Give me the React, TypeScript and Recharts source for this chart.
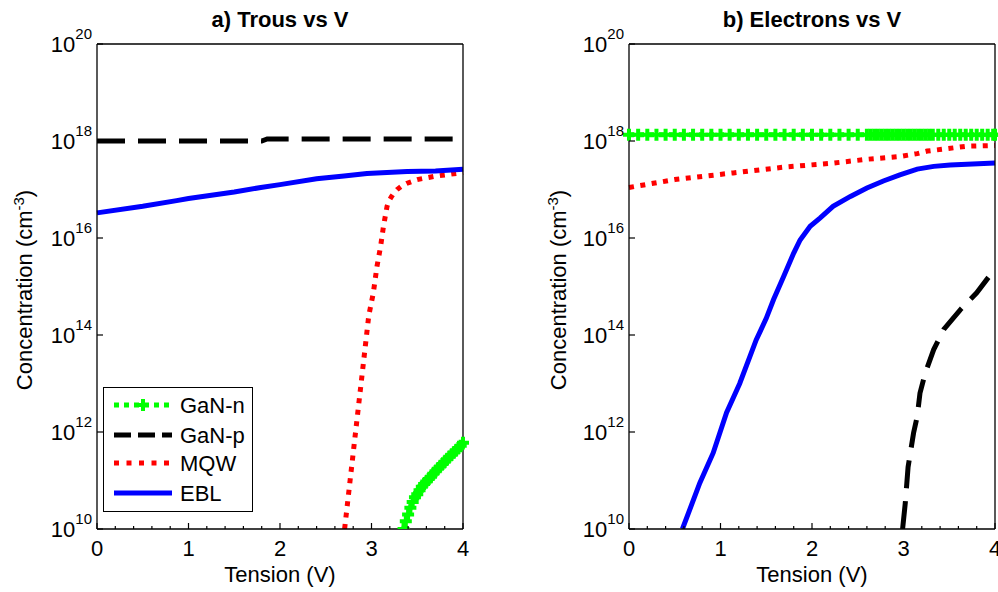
import React from 'react';
import { LineChart, Line, XAxis, YAxis, Legend } from 'recharts';

const FONT = '"Liberation Sans", Arial, Helvetica, sans-serif';

// x ticks (V) and y ticks (cm^-3)
const xTicks = [0, 0.2, 0.4, 0.6, 0.8, 1, 1.2, 1.4, 1.6, 1.8, 2, 2.2, 2.4, 2.6, 2.8, 3, 3.2, 3.4, 3.6, 3.8, 4];
const yTicks = [1e10, 1e12, 1e14, 1e16, 1e18, 1e20];
const seriesNames = ['GaN-n', 'GaN-p', 'MQW', 'EBL'];

// a) Trous vs V
const holesGaNnV = [
  3.35, 3.375, 3.4, 3.425, 3.45, 3.475, 3.5, 3.525, 3.55, 3.575, 3.6, 3.625, 3.65, 3.675,
  3.7, 3.725, 3.75, 3.775, 3.8, 3.825, 3.85, 3.875, 3.9, 3.925, 3.95, 3.975, 4.0,
];
const holesGaNn = [
  1.0e10, 1.45e10, 2.0e10, 2.75e10, 3.6e10, 4.5e10, 5.2e10, 6.3e10, 7.4e10, 8.5e10, 9.5e10, 1.07e11, 1.2e11, 1.38e11,
  1.55e11, 1.74e11, 1.95e11, 2.2e11, 2.45e11, 2.75e11, 3.1e11, 3.4e11, 3.8e11, 4.2e11, 4.7e11, 5.2e11, 6.0e11,
];
const holesGaNpV = [0, 1.8, 1.86, 4.0];
const holesGaNp = [1.0e18, 1.0e18, 1.1e18, 1.1e18];
const holesMqwV = [2.706, 2.8, 2.9, 2.97, 3.02, 3.06, 3.1, 3.13, 3.17, 3.19, 3.22, 3.25, 3.28, 3.33, 3.39, 3.5, 3.68, 3.97, 4.0];
const holesMqw = [1e10, 3.7e11, 1.7e13, 2.5e14, 7.4e14, 2.6e15, 6.8e15, 1.7e16, 4.5e16, 5.8e16, 7.2e16, 8.7e16, 1.0e17, 1.18e17, 1.35e17, 1.6e17, 1.86e17, 2.2e17, 2.25e17];
const holesEblV = [0, 0.5, 0.87, 1.0, 1.5, 1.79, 2.0, 2.4, 2.7, 2.95, 3.39, 3.7, 4.0];
const holesEbl = [3.3e16, 4.5e16, 5.9e16, 6.5e16, 8.9e16, 1.1e17, 1.26e17, 1.66e17, 1.9e17, 2.14e17, 2.34e17, 2.4e17, 2.63e17];

// b) Electrons vs V
const elecGaNnV = [
  0, 0.1, 0.2, 0.3, 0.4, 0.5, 0.6, 0.7, 0.8, 0.9, 1.0, 1.1, 1.2, 1.3, 1.4, 1.5, 1.6, 1.7, 1.8, 1.9, 2.0,
  2.1, 2.2, 2.3, 2.4, 2.5, 2.6, 2.64, 2.68, 2.72, 2.76, 2.8, 2.84, 2.88, 2.92, 2.96, 3.0, 3.04, 3.08,
  3.12, 3.16, 3.2, 3.24, 3.28, 3.32, 3.38, 3.44, 3.5, 3.56, 3.62, 3.68, 3.74, 3.8, 3.86, 3.92, 3.98, 4.0,
];
const elecGaNn = [
  1.35e18, 1.35e18, 1.35e18, 1.35e18, 1.35e18, 1.35e18, 1.35e18, 1.35e18, 1.35e18, 1.35e18, 1.35e18,
  1.35e18, 1.35e18, 1.35e18, 1.35e18, 1.35e18, 1.35e18, 1.35e18, 1.35e18, 1.35e18, 1.35e18, 1.35e18,
  1.35e18, 1.35e18, 1.35e18, 1.35e18, 1.35e18, 1.35e18, 1.35e18, 1.35e18, 1.35e18, 1.35e18, 1.35e18,
  1.35e18, 1.35e18, 1.35e18, 1.35e18, 1.35e18, 1.35e18, 1.35e18, 1.35e18, 1.35e18, 1.35e18, 1.35e18,
  1.35e18, 1.35e18, 1.35e18, 1.35e18, 1.35e18, 1.35e18, 1.35e18, 1.35e18, 1.35e18, 1.35e18, 1.35e18,
  1.35e18, 1.35e18,
];
const elecGaNpV = [2.99, 3.02, 3.05, 3.11, 3.15, 3.18, 3.24, 3.33, 3.44, 3.62, 3.8, 3.99, 4.0];
const elecGaNp = [1e10, 3.5e10, 1.9e11, 9.5e11, 2.1e12, 6.3e12, 1.7e13, 5e13, 1.3e14, 3.3e14, 7.4e14, 2.2e15, 2.4e15];
const elecMqwV = [0, 0.5, 1.14, 1.7, 2.23, 2.6, 2.96, 3.15, 3.26, 3.69, 4.0];
const elecMqw = [1.1e17, 1.6e17, 2.2e17, 2.9e17, 3.5e17, 4.2e17, 4.8e17, 5.5e17, 6.2e17, 7.8e17, 8.1e17];
const elecEblV = [0.584, 0.774, 0.92, 1.066, 1.21, 1.39, 1.5, 1.58, 1.69, 1.8, 1.87, 1.98, 2.09, 2.23, 2.42, 2.6, 2.78, 2.96, 3.15, 3.33, 3.51, 4.0];
const elecEbl = [1e10, 8.9e10, 3.7e11, 2.5e12, 1.0e13, 7.9e13, 2.2e14, 5.4e14, 1.6e15, 4.9e15, 9.1e15, 1.74e16, 2.6e16, 4.5e16, 7.2e16, 1.07e17, 1.5e17, 2.0e17, 2.63e17, 3.0e17, 3.2e17, 3.5e17];

const styles = [
  { color: '#00ff00', dash: '5 5', width: 5, plus: true },
  { color: '#000000', dash: '28 13', width: 5, plus: false },
  { color: '#ff0000', dash: '5 6.5', width: 5, plus: false },
  { color: '#0000ff', dash: undefined, width: 5, plus: false },
];

const toRows = (v: number[], n: number[]) => v.map((x, i) => ({ v: x, n: n[i] }));

const holesSeries = [
  toRows(holesGaNnV, holesGaNn),
  toRows(holesGaNpV, holesGaNp),
  toRows(holesMqwV, holesMqw),
  toRows(holesEblV, holesEbl),
];
const elecSeries = [
  toRows(elecGaNnV, elecGaNn),
  toRows(elecGaNpV, elecGaNp),
  toRows(elecMqwV, elecMqw),
  toRows(elecEblV, elecEbl),
];

const W = 499;
const H = 592;
const TOP = 44;
const BOTTOM = 529;
const PW = 366;
const FS = 22;

const plusDot = (props: any) => {
  const { cx, cy, index } = props;
  if (cx == null || cy == null) return <g key={`p${index}`} />;
  return (
    <path
      key={`p${index}`}
      d={`M${cx - 6},${cy}H${cx + 6}M${cx},${cy - 6}V${cy + 6}`}
      stroke="#00ff00"
      strokeWidth={4}
      fill="none"
    />
  );
};

function LegendBox() {
  const rows = [18, 48, 76, 106];
  return (
    <svg width={150} height={125} style={{ display: 'block' }}>
      <rect x={0.5} y={0.5} width={149} height={124} fill="#fff" stroke="#000" strokeWidth={1} />
      {seriesNames.map((name, i) => {
        const s = styles[i];
        const y = rows[i];
        const dash = i === 1 ? '17 7' : i === 2 ? '5 7.5' : s.dash;
        return (
          <g key={name}>
            <line x1={11} x2={69} y1={y} y2={y} stroke={s.color} strokeWidth={s.width} strokeDasharray={dash} />
            {s.plus && (
              <path d={`M${40 - 5.5},${y}H${40 + 5.5}M40,${y - 6}V${y + 6}`} stroke={s.color} strokeWidth={4} />
            )}
            <text x={77} y={y + 8} fontSize={FS} fontFamily={FONT} fill="#000">
              {name}
            </text>
          </g>
        );
      })}
    </svg>
  );
}

function Panel({ title, data, plotLeft, yLabelX, legend }: any) {
  const plotRight = plotLeft + PW;
  const cx = plotLeft + PW / 2;

  const bottomTick = (p: any) => {
    const x = p.x;
    const v = p.payload.value;
    const major = Math.abs(v - Math.round(v)) < 1e-6;
    return (
      <g>
        <line x1={x} x2={x} y1={BOTTOM} y2={BOTTOM - (major ? 6 : 3)} stroke="#000" strokeWidth={1.2} />
        {major && (
          <text x={x} y={556} textAnchor="middle" fontSize={FS} fontFamily={FONT} fill="#000">
            {Math.round(v)}
          </text>
        )}
      </g>
    );
  };
  const topTick = (p: any) => {
    const x = p.x;
    const v = p.payload.value;
    const major = Math.abs(v - Math.round(v)) < 1e-6;
    return <line x1={x} x2={x} y1={TOP} y2={TOP + (major ? 6 : 3)} stroke="#000" strokeWidth={1.2} />;
  };
  const leftTick = (p: any) => {
    const y = p.y;
    const exp = Math.round(Math.log10(p.payload.value));
    return (
      <g>
        <line x1={plotLeft} x2={plotLeft + 6} y1={y} y2={y} stroke="#000" strokeWidth={1.2} />
        <text x={plotLeft - 5} y={y + 8} textAnchor="end" fontSize={FS} fontFamily={FONT} fill="#000">
          10
          <tspan dy={-13} fontSize={15}>
            {exp}
          </tspan>
        </text>
      </g>
    );
  };
  const rightTick = (p: any) => {
    const y = p.y;
    return <line x1={plotRight - 6} x2={plotRight} y1={y} y2={y} stroke="#000" strokeWidth={1.2} />;
  };

  const axisLine = { stroke: '#000', strokeWidth: 1.3 };

  return (
    <LineChart
      width={W}
      height={H}
      margin={{ top: TOP - 1, right: W - plotRight - 1, bottom: 0, left: plotLeft - 60 }}
    >
      <XAxis
        xAxisId="b"
        dataKey="v"
        type="number"
        domain={[0, 4]}
        ticks={xTicks}
        interval={0}
        height={H - BOTTOM}
        tick={bottomTick}
        tickLine={false}
        axisLine={axisLine}
        label={{
          content: () => (
            <text x={cx} y={582} textAnchor="middle" fontSize={FS} fontFamily={FONT} fill="#000">
              Tension (V)
            </text>
          ),
        }}
      />
      <XAxis
        xAxisId="t"
        orientation="top"
        type="number"
        domain={[0, 4]}
        ticks={xTicks}
        interval={0}
        height={1}
        tick={topTick}
        tickLine={false}
        axisLine={axisLine}
        label={{
          content: () => (
            <text x={cx} y={27} textAnchor="middle" fontSize={22} fontWeight="bold" fontFamily={FONT} fill="#000">
              {title}
            </text>
          ),
        }}
      />
      <YAxis
        yAxisId="l"
        type="number"
        scale="log"
        domain={[1e10, 1e20]}
        ticks={yTicks}
        interval={0}
        width={60}
        tick={leftTick}
        tickLine={false}
        axisLine={axisLine}
        allowDataOverflow
        label={{
          content: () => (
            <text
              x={yLabelX}
              y={290}
              transform={`rotate(-90 ${yLabelX} 290)`}
              textAnchor="middle"
              fontSize={FS}
              fontFamily={FONT}
              fill="#000"
            >
              Concentration (cm
              <tspan dy={-8} fontSize={15}>
                -3
              </tspan>
              <tspan dy={8}>)</tspan>
            </text>
          ),
        }}
      />
      <YAxis
        yAxisId="r"
        orientation="right"
        type="number"
        scale="log"
        domain={[1e10, 1e20]}
        ticks={yTicks}
        interval={0}
        width={1}
        tick={rightTick}
        tickLine={false}
        axisLine={axisLine}
      />
      {data.map((rows: any[], i: number) => {
        const s = styles[i];
        return (
          <Line
            key={seriesNames[i]}
            xAxisId="b"
            yAxisId="l"
            data={rows}
            dataKey="n"
            name={seriesNames[i]}
            type="linear"
            stroke={s.color}
            strokeWidth={s.width}
            strokeDasharray={s.dash}
            strokeLinecap="butt"
            dot={s.plus ? plusDot : false}
            activeDot={false}
            isAnimationActive={false}
          />
        );
      })}
      {legend && (
        <Legend
          layout="horizontal"
          verticalAlign="middle"
          align="center"
          wrapperStyle={{ left: 103, top: 387, width: 150, height: 125 }}
          content={() => <LegendBox />}
        />
      )}
    </LineChart>
  );
}

export default function App() {
  return (
    <div style={{ position: 'absolute', left: 0, top: 0, width: 998, height: 592, background: '#fff', display: 'flex' }}>
      <Panel title="a) Trous vs V" data={holesSeries} plotLeft={97} yLabelX={32} legend />
      <Panel title="b) Electrons vs V" data={elecSeries} plotLeft={130} yLabelX={67} legend={false} />
    </div>
  );
}
